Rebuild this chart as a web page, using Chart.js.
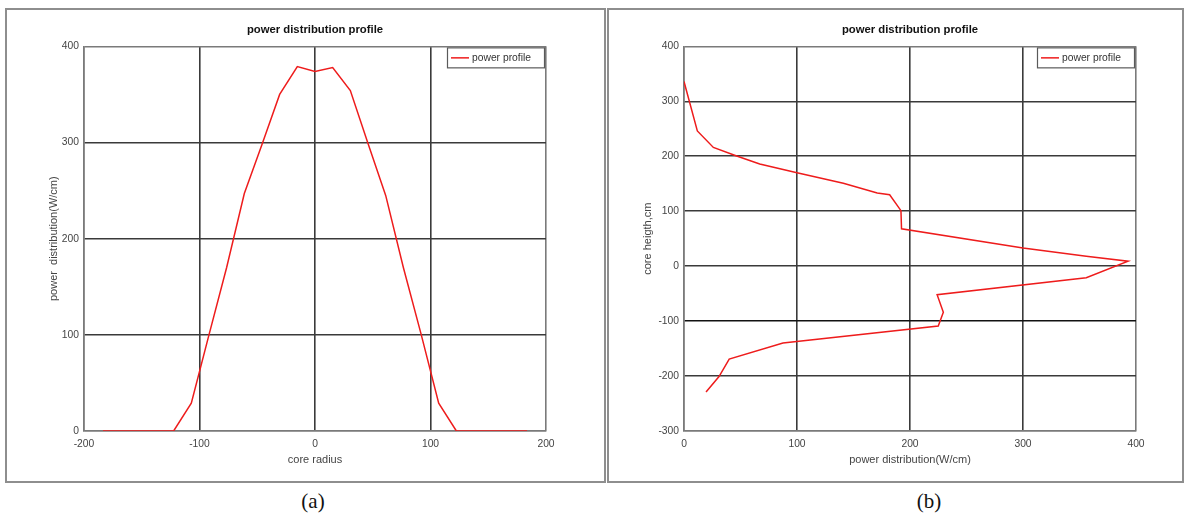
<!DOCTYPE html>
<html>
<head>
<meta charset="utf-8">
<script src="https://cdn.jsdelivr.net/npm/chart.js@4/dist/chart.umd.min.js"></script>
<style>
  html, body { margin: 0; padding: 0; background: #ffffff; }
  body { width: 1187px; height: 516px; position: relative; overflow: hidden; }
  .panel { position: absolute; box-sizing: border-box; border: 2px solid #8e8e8e; }
  canvas { position: absolute; }
  .cap { position: absolute; font-family: "Liberation Serif", "Times New Roman", serif;
         font-size: 21px; color: #111; transform: translate(-50%, -50%); white-space: nowrap; }
</style>
</head>
<body>
<div class="panel" style="left:5px; top:8px; width:601px; height:475px;"></div>
<div class="panel" style="left:607px; top:8px; width:577px; height:475px;"></div>
<canvas id="radial" width="598" height="472" style="left:6px; top:9px;"></canvas>
<canvas id="axial" width="572" height="472" style="left:610px; top:9px;"></canvas>
<div class="cap" style="left:313px; top:501px;">(a)</div>
<div class="cap" style="left:929px; top:501px;">(b)</div>
<script>
// (a) radial power profile across the core
const radiusCm = [-183.6, -122.4, -107.1, -91.8, -76.5, -61.2, -45.9, -30.6, -15.3, 0,
                  15.3, 30.6, 45.9, 61.2, 76.5, 91.8, 107.1, 122.4, 183.6];
const radialPower = [0, 0, 29, 100, 170, 247, 298, 350, 379, 374,
                     378, 354, 299, 245, 170, 101, 29, 0, 0];

// (b) axial power profile along the core height
const axialPower = [0, 11.8, 26, 46, 67, 100, 141, 171, 182, 192, 192.5, 300, 356, 393,
                    356, 224, 229.5, 225, 87.6, 40, 31, 19.5];
const coreHeight = [336, 246, 216, 201, 186, 170, 151, 133, 130, 101, 68, 33, 18, 9,
                    -21, -52, -84, -109, -140, -169, -201, -229];

const radialTicks = [-200, -100, 0, 100, 200];
const radialPowerTicks = [0, 100, 200, 300, 400];
const axialPowerTicks = [0, 100, 200, 300, 400];
const heightTicks = [-300, -200, -100, 0, 100, 200, 300, 400];

const chartTitle = 'power distribution profile';
const seriesName = 'power profile';

const FONT = '"Liberation Sans", Arial, sans-serif';
const GRID = '#3a3a3a';
const FRAME = '#7a7a7a';

// Boxed legend in the top-right corner of the plot area
const boxedLegend = {
  id: 'boxedLegend',
  afterDraw(chart) {
    const { ctx, chartArea } = chart;
    const ds = chart.data.datasets[0];
    const w = 97, h = 20;
    const x = chartArea.right - 2 - w, y = chartArea.top + 1;
    ctx.save();
    ctx.fillStyle = '#ffffff';
    ctx.fillRect(x, y, w, h);
    ctx.strokeStyle = '#5a5a5a';
    ctx.lineWidth = 1.2;
    ctx.strokeRect(x + 0.5, y + 0.5, w, h);
    ctx.strokeStyle = ds.borderColor;
    ctx.lineWidth = 1.5;
    ctx.beginPath();
    ctx.moveTo(x + 4, y + 10.5);
    ctx.lineTo(x + 22, y + 10.5);
    ctx.stroke();
    ctx.fillStyle = '#333';
    ctx.font = '10.3px ' + FONT;
    ctx.textBaseline = 'middle';
    ctx.fillText(ds.label, x + 25, y + 11);
    ctx.restore();
  }
};

function gridColor(values, darkValue) {
  return (c) => {
    const v = c.tick && c.tick.value;
    if (v === values[0] || v === values[values.length - 1]) return FRAME;
    if (darkValue !== undefined && v === darkValue) return '#111';
    return GRID;
  };
}

function axis(ticks, title, fixed, horizontal, darkValue) {
  return {
    type: 'linear',
    min: ticks[0],
    max: ticks[ticks.length - 1],
    afterBuildTicks: (s) => { s.ticks = ticks.map(v => ({ value: v })); },
    afterFit: (s) => { if (horizontal) s.height = fixed; else s.width = fixed; },
    grid: { color: gridColor(ticks, darkValue), lineWidth: 1.6, drawTicks: false },
    border: { display: true, color: FRAME, width: 1.6 },
    ticks: {
      color: '#444',
      font: { family: FONT, size: 10.3 },
      padding: horizontal ? 7 : 5,
      maxRotation: 0,
      autoSkip: false
    },
    title: {
      display: true,
      text: title,
      color: '#444',
      font: { family: FONT, size: 11, lineHeight: 1.2 },
      padding: 0
    }
  };
}

function makeChart(id, points, xTicks, yTicks, xTitle, yTitle, pad, yWidth, darkY) {
  return new Chart(document.getElementById(id), {
    type: 'scatter',
    data: {
      datasets: [{
        label: seriesName,
        data: points,
        showLine: true,
        borderColor: '#ee1c1c',
        borderWidth: 1.5,
        pointRadius: 0,
        tension: 0,
        fill: false
      }]
    },
    options: {
      responsive: false,
      animation: false,
      layout: { padding: pad },
      plugins: {
        legend: { display: false },
        tooltip: { enabled: false },
        title: {
          display: true,
          text: chartTitle,
          fullSize: false,
          color: '#111',
          font: { family: FONT, size: 11.3, weight: 'bold', lineHeight: 1.2 },
          padding: { top: 0, bottom: 9.4 }
        }
      },
      scales: {
        x: axis(xTicks, xTitle, 35.6, true),
        y: axis(yTicks, yTitle, yWidth, false, darkY)
      }
    },
    plugins: [boxedLegend]
  });
}

makeChart('radial',
  radiusCm.map((r, i) => ({ x: r, y: radialPower[i] })),
  radialTicks, radialPowerTicks,
  'core radius', 'power  distribution(W/cm)',
  { left: 41, right: 58, top: 14.4, bottom: 14.4 }, 37);

makeChart('axial',
  axialPower.map((p, i) => ({ x: p, y: coreHeight[i] })),
  axialPowerTicks, heightTicks,
  'power distribution(W/cm)', 'core heigth,cm',
  { left: 31.4, right: 46, top: 14.4, bottom: 14.4 }, 42.6, -100);
</script>
</body>
</html>
